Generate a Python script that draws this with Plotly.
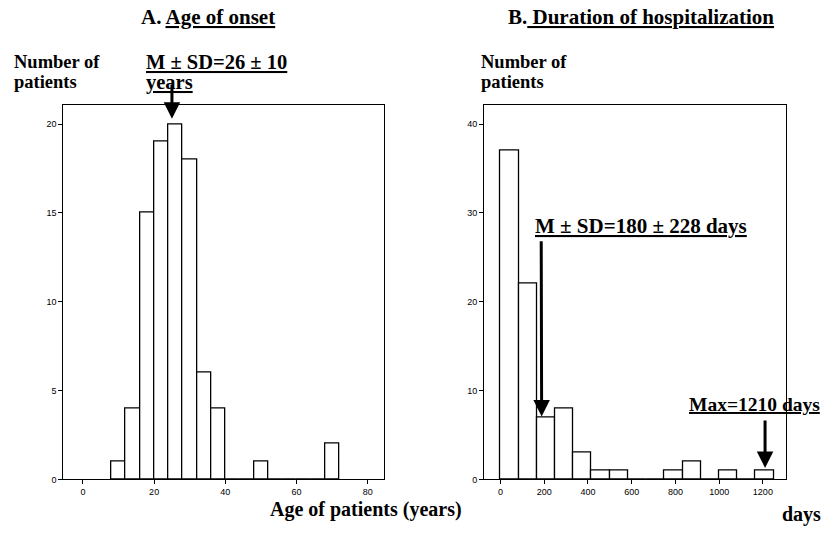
import plotly.graph_objects as go

# Panel A: age of onset histogram (bin width 4 years)
age_bin_starts = [8, 12, 16, 20, 24, 28, 32, 36, 40, 44, 48, 52, 56, 60, 64, 68]
age_counts = [1, 4, 15, 19, 20, 18, 6, 4, 0, 0, 1, 0, 0, 0, 0, 2]
age_bin_width = 4
age_xticks = [0, 20, 40, 60, 80]
age_yticks = [0, 5, 10, 15, 20]

# Panel B: duration of hospitalization histogram (bin width 83.3 days)
dur_bin_width = 1250 / 15
dur_bin_index = list(range(15))
dur_counts = [37, 22, 7, 8, 3, 1, 1, 0, 0, 1, 2, 0, 1, 0, 1]
dur_xticks = [0, 200, 400, 600, 800, 1000, 1200]
dur_yticks = [0, 10, 20, 30, 40]

age_centers = [s + age_bin_width / 2 for s in age_bin_starts]
dur_centers = [(i + 0.5) * dur_bin_width for i in dur_bin_index]

SERIF = "Liberation Serif, Times New Roman, serif"
TICKF = dict(family="Liberation Sans, Arial, sans-serif", size=9, color="black")

fig = go.Figure()
fig.add_trace(go.Bar(x=age_centers, y=age_counts, width=[age_bin_width] * len(age_centers),
                     marker=dict(color="white", line=dict(color="black", width=1.3)),
                     xaxis="x", yaxis="y", showlegend=False))
fig.add_trace(go.Bar(x=dur_centers, y=dur_counts, width=[dur_bin_width] * len(dur_centers),
                     marker=dict(color="white", line=dict(color="black", width=1.3)),
                     xaxis="x2", yaxis="y2", showlegend=False))

ax_common = dict(showline=True, linecolor="black", linewidth=1, mirror=True,
                 ticks="outside", ticklen=4, tickcolor="black", tickwidth=1,
                 showgrid=False, zeroline=False, tickfont=TICKF)

fig.update_layout(
    width=822, height=536,
    margin=dict(l=0, r=0, t=0, b=0),
    paper_bgcolor="white", plot_bgcolor="white",
    bargap=0,
    xaxis=dict(domain=[0.077, 0.467], range=[-5.5, 84.5], tickvals=age_xticks, anchor="y", **ax_common),
    yaxis=dict(domain=[0.097, 0.803], range=[0, 21.1], tickvals=age_yticks, anchor="x", **ax_common),
    xaxis2=dict(domain=[0.589, 0.956], range=[-75, 1305], tickvals=dur_xticks, anchor="y2", **ax_common),
    yaxis2=dict(domain=[0.097, 0.803], range=[0, 42.2], tickvals=dur_yticks, anchor="x2", **ax_common),
)

def txt(x, y, s, size=18, xanchor="left", yanchor="middle"):
    fig.add_annotation(x=x / 822, y=1 - y / 536, xref="paper", yref="paper", text=s,
                       showarrow=False, xanchor=xanchor, yanchor=yanchor, align="left",
                       font=dict(family=SERIF, size=size, color="black"))

txt(208, 17, "<b>A. <u>Age of onset</u></b>", size=21, xanchor="center")
txt(641, 17, "<b>B.<u> Duration of hospitalization</u></b>", size=21, xanchor="center")
txt(12, 63, "<b>Number of</b>", size=18.5)
txt(12, 83, "<b>patients</b>", size=18.5)
txt(479, 63, "<b>Number of</b>", size=18.5)
txt(479, 83, "<b>patients</b>", size=18.5)
txt(144, 63, "<b><u>M ± SD=26 ± 10</u></b>", size=20.5)
txt(144, 83, "<b><u>years</u></b>", size=20.5)
txt(533, 228, "<b><u>M ± SD=180 ± 228 days</u></b>", size=21)
txt(687, 408, "<b><u>Max=1210 days</u></b>", size=19.5)
txt(366, 514, "<b>Age of patients (years)</b>", size=20, xanchor="center")
txt(780, 519, "<b>days</b>", size=20)

def arrow(xr, yr, x, y, ax, ay):
    fig.add_annotation(x=x, y=y, ax=ax, ay=ay, xref=xr, yref=yr, axref=xr, ayref=yr,
                       text="", showarrow=True, arrowhead=2, arrowsize=1.1, arrowwidth=3,
                       arrowcolor="black", standoff=0)

arrow("x", "y", 25, 20.3, 25, 22.3)
arrow("x2", "y2", 188, 7.1, 186, 27.0)
arrow("x2", "y2", 1210, 1.3, 1210, 6.8)

fig.write_html("out.html")
